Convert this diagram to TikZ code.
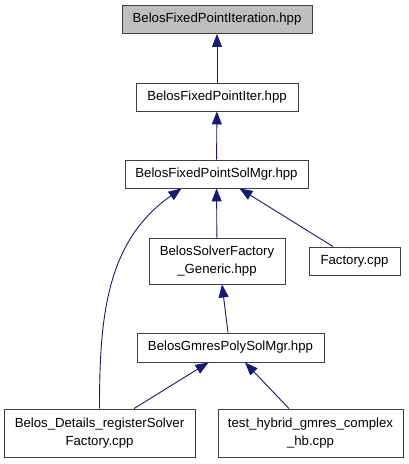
\documentclass[tikz,border=0pt]{standalone}
\usepackage{fontspec}
\setmainfont{Liberation Sans}
\usetikzlibrary{arrows.meta,positioning}
\definecolor{edgeblue}{HTML}{191970}
\definecolor{rootgray}{HTML}{BFBFBF}
\definecolor{boxline}{HTML}{404040}

\begin{document}
\begin{tikzpicture}[x=1pt, y=-1pt]

 \tikzset{
   file/.style={rectangle, draw=boxline, fill=white, line width=0.9pt, inner sep=0pt,
                minimum height=28pt, align=center, font=\fontsize{13.2}{18}\selectfont},
   root/.style={file, fill=rootgray},
   arrow/.style={{Triangle[length=13pt, width=10pt]}-, draw=edgeblue, line width=0.9pt,
                 color=edgeblue}
 }

 \useasboundingbox (0,0) rectangle (408,464);

 % Row positions
 \def\rowA{19.5}
 \def\rowB{97}
 \def\rowC{174}
 \def\rowD{261}
 \def\rowE{347.5}
 \def\rowF{433}

 % Headers
 \node[root, minimum width=190pt] (iteration) at (217, \rowA) {BelosFixedPointIteration.hpp};
 \node[file, minimum width=162pt] (iter) at (217, \rowB) {BelosFixedPointIter.hpp};
 \node[file, minimum width=183pt] (solmgr) at (216.5, \rowC) {BelosFixedPointSolMgr.hpp};
 \node[file, minimum width=136pt, minimum height=46pt] (factory_generic) at (217, \rowD)
      {BelosSolverFactory\\\_Generic.hpp};
 \node[file, minimum width=91pt] (factory_cpp) at (354.5, \rowD) {Factory.cpp};
 \node[file, minimum width=187pt, minimum height=29pt] (gmrespoly) at (230.5, \rowE) {BelosGmresPolySolMgr.hpp};
 \node[file, minimum width=191pt, minimum height=48pt] (register) at (99.5, \rowF)
      {Belos\_Details\_registerSolver\\Factory.cpp};
 \node[file, minimum width=185pt, minimum height=48pt] (test_hybrid) at (310.5, \rowF)
      {test\_hybrid\_gmres\_complex\\\_hb.cpp};

 % Include edges
 \draw[arrow] (iteration) -- (iter);
 \draw[arrow] (iter) -- (solmgr);
 \draw[arrow] (solmgr) -- (factory_generic);
 \draw[arrow] ([xshift=23pt]solmgr.south) -- ([xshift=-21.5pt]factory_cpp.north);
 \draw[arrow] ([xshift=-35pt]solmgr.south) to[out=-145, in=90] (register.north);
 \draw[arrow] ([xshift=5pt]factory_generic.south) -- ([xshift=-2.5pt]gmrespoly.north);
 \draw[arrow] ([xshift=-22pt]gmrespoly.south) -- ([xshift=34.5pt]register.north);
 \draw[arrow] ([xshift=14.5pt]gmrespoly.south) -- ([xshift=-21.5pt]test_hybrid.north);

\end{tikzpicture}
\end{document}
